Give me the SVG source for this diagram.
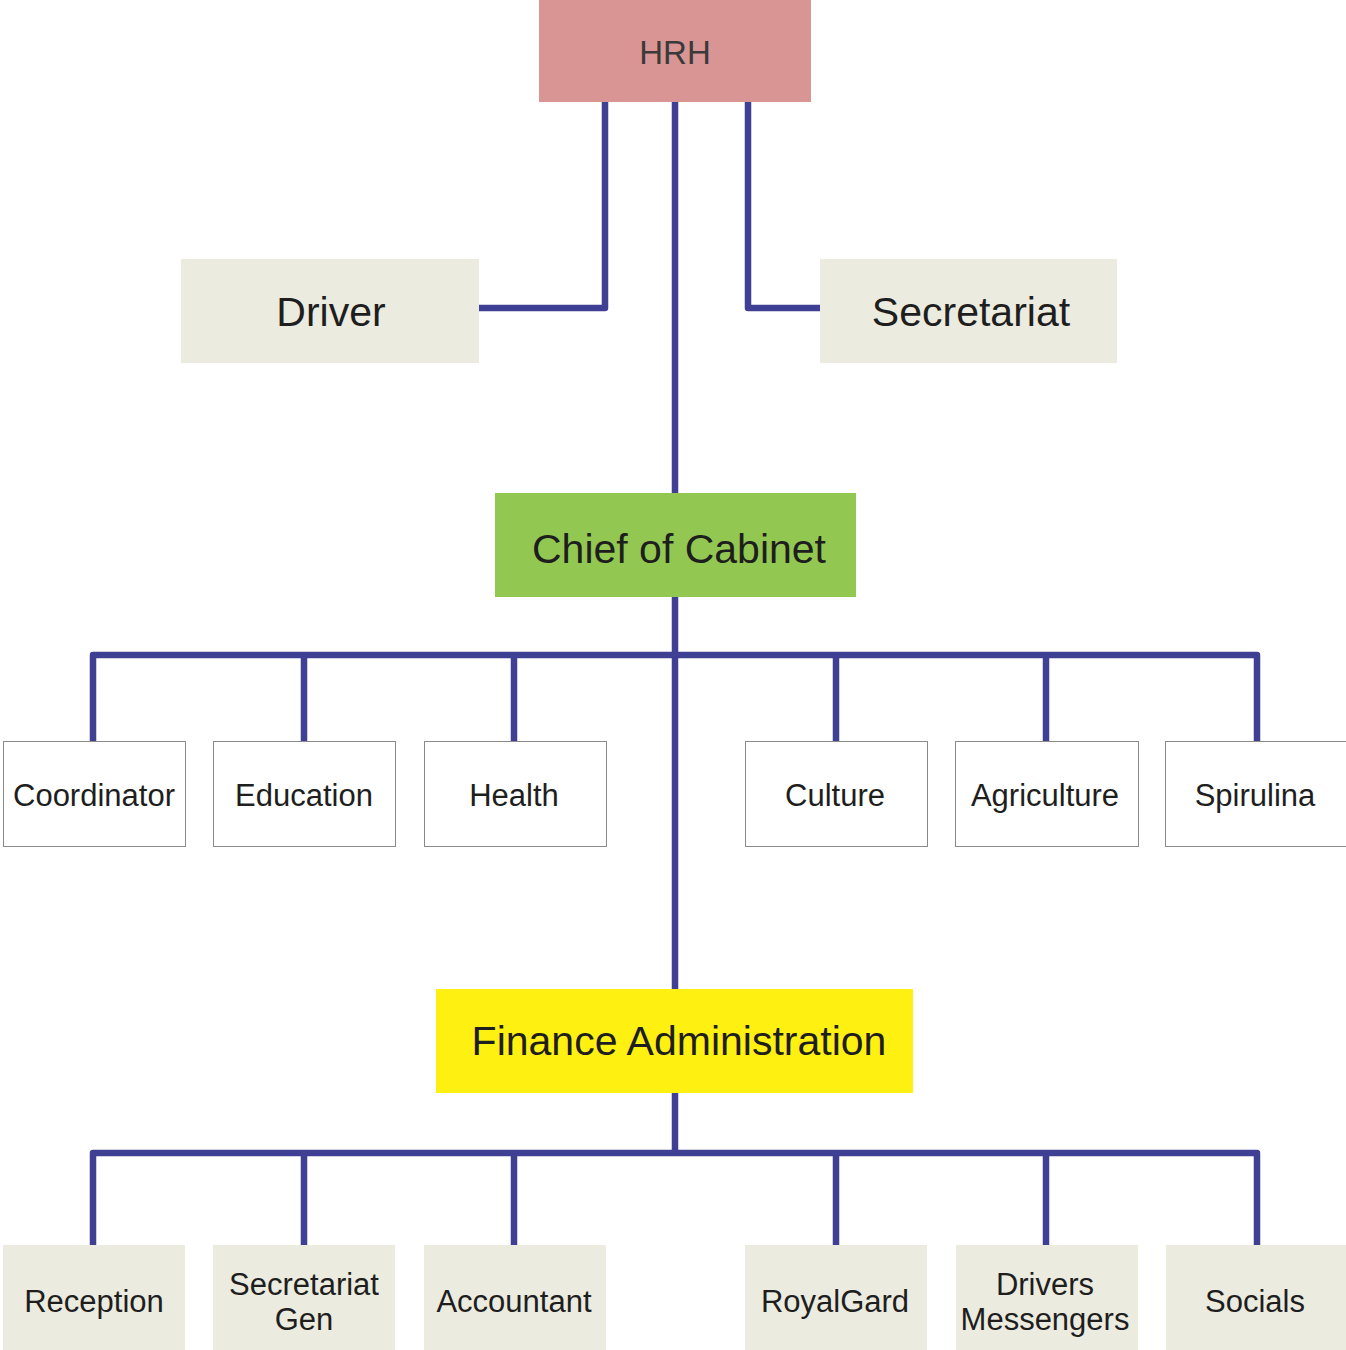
<svg xmlns="http://www.w3.org/2000/svg" width="1346" height="1350" viewBox="0 0 1346 1350">
<style>
text{font-family:"Liberation Sans",Arial,sans-serif;fill:#1e1e1e;text-anchor:middle;dominant-baseline:central}
.c{fill:none;stroke:#3f3f94;stroke-width:6.5;stroke-linejoin:round}
.beige{fill:#ebebdf}
.white{fill:#fff;stroke:#8a8a8a;stroke-width:1}
.big{font-size:41px}
.sm{font-size:31px}
</style>
<rect width="1346" height="1350" fill="#fff"/>
<g id="connectors">
<path class="c" d="M605 102V308H479"/>
<path class="c" d="M748 102V308H820"/>
<path class="c" d="M675 102V493"/>
<path class="c" d="M675 597V989"/>
<path class="c" d="M93 741V655H1257V741M304 655V741M514 655V741M836 655V741M1046 655V741"/>
<path class="c" d="M675 1093V1153"/>
<path class="c" d="M93 1245V1153H1257V1245M304 1153V1245M514 1153V1245M836 1153V1245M1046 1153V1245"/>
</g>
<g id="hrh"><rect x="539" y="0" width="272" height="102" fill="#d99594"/><text x="675" y="52" font-size="33" style="fill:#3a3a3a">HRH</text></g>
<g id="driver"><rect class="beige" x="181" y="259" width="298" height="104"/><text class="big" x="331" y="312">Driver</text></g>
<g id="secretariat"><rect class="beige" x="820" y="259" width="297" height="104"/><text class="big" x="971" y="312">Secretariat</text></g>
<g id="chief"><rect x="495" y="493" width="361" height="104" fill="#92c851"/><text class="big" x="679" y="549">Chief of Cabinet</text></g>
<g id="coordinator"><rect class="white" x="3.5" y="741.5" width="182" height="105"/><text class="sm" x="94" y="795">Coordinator</text></g>
<g id="education"><rect class="white" x="213.5" y="741.5" width="182" height="105"/><text class="sm" x="304" y="795">Education</text></g>
<g id="health"><rect class="white" x="424.5" y="741.5" width="182" height="105"/><text class="sm" x="514" y="795">Health</text></g>
<g id="culture"><rect class="white" x="745.5" y="741.5" width="182" height="105"/><text class="sm" x="835" y="795">Culture</text></g>
<g id="agriculture"><rect class="white" x="955.5" y="741.5" width="183" height="105"/><text class="sm" x="1045" y="795">Agriculture</text></g>
<g id="spirulina"><rect class="white" x="1165.5" y="741.5" width="190" height="105"/><text class="sm" x="1255" y="795">Spirulina</text></g>
<g id="finance"><rect x="436" y="989" width="477" height="104" fill="#fef011"/><text class="big" x="679" y="1041">Finance Administration</text></g>
<g id="reception"><rect class="beige" x="3" y="1245" width="182" height="105"/><text class="sm" x="94" y="1301">Reception</text></g>
<g id="secgen"><rect class="beige" x="213" y="1245" width="182" height="105"/><text class="sm" x="304" y="1284">Secretariat</text><text class="sm" x="304" y="1319">Gen</text></g>
<g id="accountant"><rect class="beige" x="424" y="1245" width="182" height="105"/><text class="sm" x="514" y="1301">Accountant</text></g>
<g id="royalgard"><rect class="beige" x="745" y="1245" width="182" height="105"/><text class="sm" x="835" y="1301">RoyalGard</text></g>
<g id="drivers"><rect class="beige" x="956" y="1245" width="182" height="105"/><text class="sm" x="1045" y="1284">Drivers</text><text class="sm" x="1045" y="1319">Messengers</text></g>
<g id="socials"><rect class="beige" x="1166" y="1245" width="180" height="105"/><text class="sm" x="1255" y="1301">Socials</text></g>
</svg>
